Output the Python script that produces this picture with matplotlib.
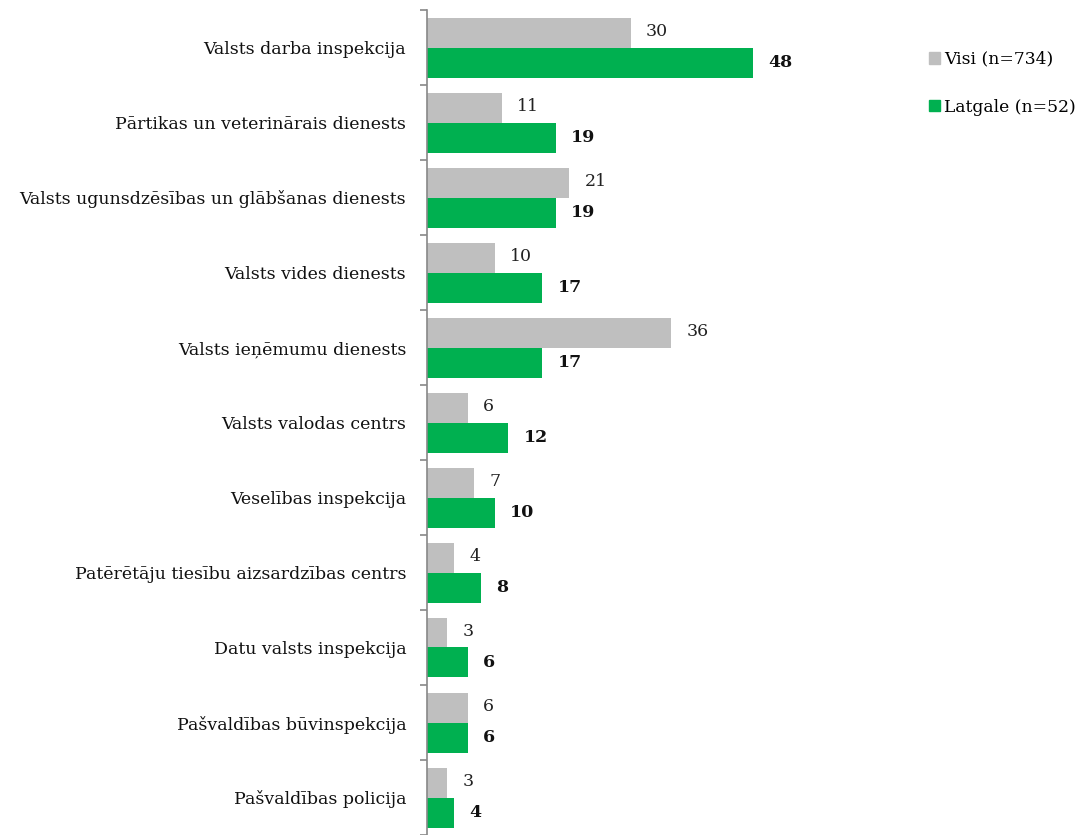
import numpy as np
import matplotlib
matplotlib.use("Agg")
import matplotlib.pyplot as plt
from matplotlib.patches import Patch

categories = [
    "Valsts darba inspekcija",
    "Pārtikas un veterinārais dienests",
    "Valsts ugunsdzēsības un glābšanas dienests",
    "Valsts vides dienests",
    "Valsts ieņēmumu dienests",
    "Valsts valodas centrs",
    "Veselības inspekcija",
    "Patērētāju tiesību aizsardzības centrs",
    "Datu valsts inspekcija",
    "Pašvaldības būvinspekcija",
    "Pašvaldības policija",
]
visi = [30, 11, 21, 10, 36, 6, 7, 4, 3, 6, 3]
latgale = [48, 19, 19, 17, 17, 12, 10, 8, 6, 6, 4]
series_names = ["Visi (n=734)", "Latgale (n=52)"]

grey = "#BFBFBF"
green = "#00B050"

plt.rcParams["font.family"] = ["DejaVu Serif"]

fig = plt.figure(figsize=(10.83, 8.35), dpi=100)
ax = fig.add_axes([427 / 1083, 0, 407 / 1083, 825 / 835])

y = np.arange(len(categories))
h = 0.4
ax.barh(y - h / 2, visi, height=h, color=grey)
ax.barh(y + h / 2, latgale, height=h, color=green)

for yi, v in zip(y, visi):
    ax.annotate(str(v), (v, yi - h / 2), xytext=(11, 1), textcoords="offset points",
                va="center", ha="left", fontsize=12.5, color="#222222")
for yi, v in zip(y, latgale):
    ax.annotate(str(v), (v, yi + h / 2), xytext=(11, 0), textcoords="offset points",
                va="center", ha="left", fontsize=12.5, fontweight="bold", color="#111111")

ax.set_xlim(0, 60)
ax.set_ylim(len(categories) - 0.5, -0.5)
ax.set_yticks(y)
ax.set_yticklabels(categories, fontsize=12.5, color="#111111")
ax.set_yticks(np.arange(len(categories) + 1) - 0.5, minor=True)
ax.tick_params(axis="y", which="major", length=0, pad=15)
ax.tick_params(axis="y", which="minor", length=5, color="#888888", width=1.2)
ax.set_xticks([])
for s in ["top", "right", "bottom"]:
    ax.spines[s].set_visible(False)
ax.spines["left"].set_color("#888888")
ax.spines["left"].set_linewidth(1.2)

handles = [Patch(color=grey), Patch(color=green)]
fig.legend(handles, series_names, loc="upper left", bbox_to_anchor=(922 / 1083, 1 - 44 / 835),
           frameon=False, fontsize=12.3, handlelength=0.65, handleheight=0.65,
           handletextpad=0.25, labelspacing=1.8, borderaxespad=0)

fig.savefig("out.png", dpi=100)
